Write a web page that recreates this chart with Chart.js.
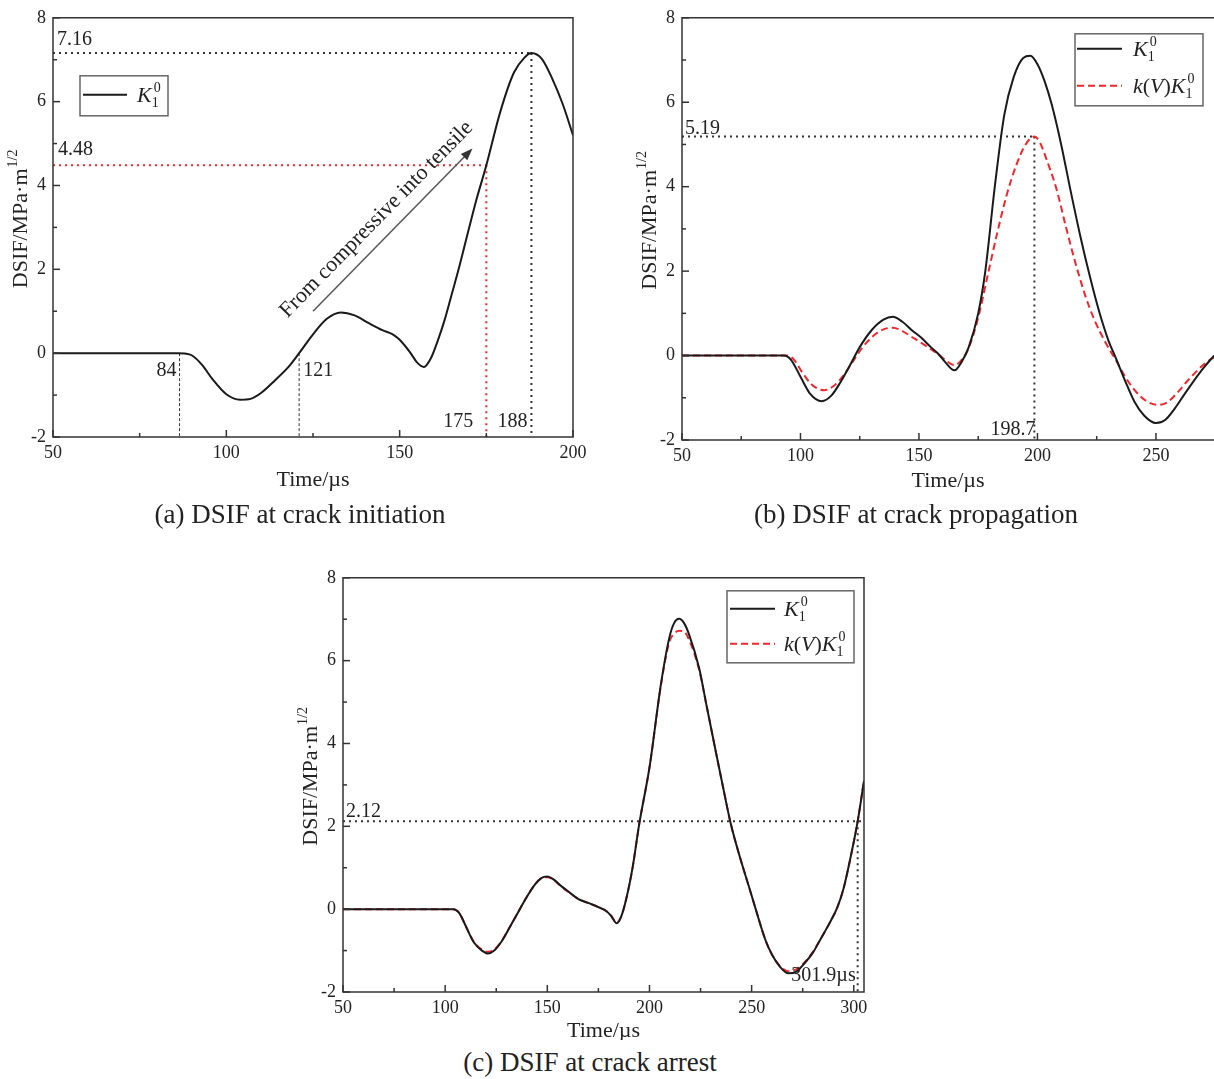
<!DOCTYPE html>
<html>
<head>
<meta charset="utf-8">
<script src="https://cdn.jsdelivr.net/npm/chart.js@4/dist/chart.umd.min.js"></script>
<style>
body{margin:0;background:#fff;width:1214px;height:1079px;position:relative;overflow:hidden;font-family:'Liberation Serif',serif;color:#222;}
.box{position:absolute;}
.cap{position:absolute;font-size:27px;line-height:27px;white-space:nowrap;transform:translateX(-50%);}
</style>
</head>
<body>
<div class="box" style="left:0;top:0;width:610px;height:500px"><canvas id="ca"></canvas></div>
<div class="box" style="left:600px;top:0;width:614px;height:500px"><canvas id="cb"></canvas></div>
<div class="box" style="left:250px;top:560px;width:640px;height:480px"><canvas id="cc"></canvas></div>
<div class="cap" style="left:300px;top:501px">(a) DSIF at crack initiation</div>
<div class="cap" style="left:916px;top:501px">(b) DSIF at crack propagation</div>
<div class="cap" style="left:590px;top:1049px">(c) DSIF at crack arrest</div>
<script>
// common axis ticks
const yMajor = [-2, 0, 2, 4, 6, 8];
const yMinor = [-1, 1, 3, 5, 7];

// (a) crack initiation
const timeA = [50, 86, 88, 90, 93, 96, 100, 104, 107, 110, 114, 118, 121, 125, 129, 133, 137, 141, 145, 148, 150, 153, 155, 157, 159, 161, 163, 165, 167, 170, 172, 175, 179, 183, 186, 188, 191, 194, 197, 200];
const kA = [0, 0, -0.01, -0.05, -0.28, -0.62, -0.98, -1.11, -1.09, -0.95, -0.65, -0.32, 0, 0.45, 0.82, 0.97, 0.9, 0.72, 0.55, 0.45, 0.32, 0.02, -0.22, -0.33, -0.12, 0.3, 0.8, 1.4, 2.0, 2.98, 3.62, 4.48, 5.75, 6.7, 7.05, 7.16, 7.02, 6.55, 5.95, 5.2];
const xMajorA = [50, 100, 150, 200];
const xMinorA = [75, 125, 175];
const peakA = [188, 7.16];
const initA = [175, 4.48];
const markA = [86.5, 121];
const arrowA = [[125, 1.0], [171, 4.88]];

// (b) crack propagation
const timeB = [50, 93, 96, 100, 104, 109, 113, 117, 121, 125, 130, 135, 139, 143, 147, 151, 155, 158, 161, 165, 168, 171, 175, 178, 182, 186, 190, 194, 197, 200, 203, 206, 210, 214, 218, 222, 226, 230, 233, 237, 241, 245, 250, 254, 258, 262, 266, 270, 274.5];
const kB = [0, 0, -0.1, -0.5, -0.9, -1.08, -0.95, -0.62, -0.22, 0.2, 0.6, 0.85, 0.92, 0.8, 0.6, 0.42, 0.2, 0.05, -0.15, -0.35, -0.15, 0.2, 1.0, 2.0, 4.0, 5.7, 6.6, 7.05, 7.1, 6.9, 6.5, 5.95, 5.0, 3.9, 2.85, 1.9, 1.05, 0.35, -0.05, -0.6, -1.1, -1.42, -1.6, -1.52, -1.25, -0.92, -0.6, -0.3, 0];
const timeBv = [50, 94, 97, 101, 105, 110, 114, 118, 122, 126, 131, 135, 139, 143, 147, 151, 155, 158, 161, 165, 168, 171, 175, 179, 183, 187, 191, 195, 198.7, 201, 204, 208, 212, 216, 220, 224, 229, 233, 237, 241, 246, 251, 255, 259, 263, 267, 271, 274.5];
const kvB = [0, 0, -0.08, -0.42, -0.7, -0.82, -0.72, -0.48, -0.15, 0.18, 0.48, 0.62, 0.66, 0.58, 0.44, 0.3, 0.15, 0.04, -0.1, -0.23, -0.1, 0.18, 0.9, 1.9, 2.9, 3.8, 4.5, 5.0, 5.19, 5.05, 4.62, 3.95, 3.05, 2.2, 1.45, 0.85, 0.28, -0.1, -0.5, -0.82, -1.08, -1.17, -1.1, -0.88, -0.62, -0.38, -0.17, -0.04];
const xMajorB = [50, 100, 150, 200, 250];
const xMinorB = [75, 125, 175, 225];
const peakB = [198.7, 5.19];

// (c) crack arrest
const timeC = [50, 104, 107, 110, 114, 118, 121, 124, 128, 132, 136, 140, 144, 147, 150, 153, 157, 161, 165, 170, 175, 179, 181, 184, 186, 188.5, 191.8, 195, 200, 205.6, 209.7, 212, 214.5, 217, 219.4, 224.3, 228, 232.4, 236, 239.8, 244, 248.7, 252, 256.8, 260, 264, 268, 272, 276, 280, 284, 288, 292, 295, 298, 301.9, 305];
const kC = [0, 0, -0.1, -0.4, -0.8, -1.0, -1.07, -1.0, -0.75, -0.4, -0.05, 0.3, 0.6, 0.75, 0.79, 0.72, 0.55, 0.4, 0.25, 0.15, 0.05, -0.05, -0.15, -0.34, -0.2, 0.22, 1.02, 2.06, 3.42, 5.43, 6.55, 6.9, 7.01, 6.9, 6.63, 5.82, 4.9, 3.82, 2.95, 2.06, 1.3, 0.54, 0, -0.75, -1.1, -1.4, -1.55, -1.5, -1.3, -1.05, -0.7, -0.35, 0.05, 0.5, 1.15, 2.12, 3.1];
const kvC = [0, 0, -0.1, -0.4, -0.78, -0.98, -1.03, -0.98, -0.74, -0.4, -0.05, 0.3, 0.6, 0.74, 0.77, 0.71, 0.54, 0.39, 0.25, 0.15, 0.05, -0.05, -0.14, -0.32, -0.2, 0.22, 1.02, 2.06, 3.42, 5.4, 6.45, 6.65, 6.72, 6.7, 6.5, 5.78, 4.9, 3.82, 2.95, 2.06, 1.3, 0.54, 0, -0.75, -1.1, -1.38, -1.5, -1.45, -1.28, -1.03, -0.7, -0.35, 0.05, 0.5, 1.15, 2.12, 3.1];
const xMajorC = [50, 100, 150, 200, 250, 300];
const xMinorC = [75, 125, 175, 225, 275];
const arrestC = [301.9, 2.12];

const FONT = "'Liberation Serif', 'Times New Roman', serif";
const INK = '#222';
const RED = '#f0282d';
Chart.defaults.font.family = FONT;
Chart.defaults.color = INK;

function pts(xs, ys) { return xs.map((x, i) => ({ x: x, y: ys[i] })); }

function seg(ctx, a, b, color, w, dash) {
    ctx.save();
    ctx.beginPath();
    ctx.strokeStyle = color;
    ctx.lineWidth = w;
    ctx.setLineDash(dash || []);
    ctx.moveTo(a[0], a[1]);
    ctx.lineTo(b[0], b[1]);
    ctx.stroke();
    ctx.restore();
}

function txt(ctx, s, x, y, size, align, style) {
    ctx.save();
    ctx.font = (style || '') + ' ' + size + 'px ' + FONT;
    ctx.fillStyle = INK;
    ctx.textAlign = align || 'left';
    ctx.textBaseline = 'alphabetic';
    ctx.fillText(s, x, y);
    ctx.restore();
}

// italic/roman pieces with stacked sub + sup
function drawMath(ctx, x, y, parts) {
    ctx.save();
    ctx.fillStyle = INK;
    ctx.textBaseline = 'alphabetic';
    let cx = x;
    for (let i = 0; i < parts.length; i++) {
        const p = parts[i];
        if (p[1] == 'sub') {
            ctx.font = '14px ' + FONT;
            ctx.fillText(p[0], cx, y + 5);
            const w1 = ctx.measureText(p[0]).width;
            const q = parts[i + 1];
            ctx.fillText(q[0], cx + 2, y - 10);
            cx += Math.max(w1, ctx.measureText(q[0]).width + 2);
            i++;
        } else {
            ctx.font = (p[1] == 'i' ? 'italic ' : '') + '22px ' + FONT;
            ctx.fillText(p[0], cx, y);
            cx += ctx.measureText(p[0]).width;
        }
    }
    ctx.restore();
}

const K10 = [['K', 'i'], ['1', 'sub'], ['0', 'sup']];
const KVK10 = [['k', 'i'], ['(', 'r'], ['V', 'i'], [')', 'r'], ['K', 'i'], ['1', 'sub'], ['0', 'sup']];

function drawLegend(ctx, lg) {
    ctx.save();
    ctx.strokeStyle = '#666';
    ctx.lineWidth = 1.5;
    ctx.strokeRect(lg.x, lg.y, lg.w, lg.h);
    ctx.restore();
    lg.rows.forEach(r => {
        const yy = lg.y + r.dy;
        seg(ctx, [lg.x + r.l0, yy], [lg.x + r.l1, yy], r.color, 2, r.dash);
        drawMath(ctx, lg.x + r.tx, yy + 7, r.parts);
    });
}

function yTitle(ctx, x, cy) {
    ctx.save();
    ctx.translate(x, cy);
    ctx.rotate(-Math.PI / 2);
    ctx.fillStyle = INK;
    ctx.textBaseline = 'alphabetic';
    ctx.font = '22px ' + FONT;
    const main = 'DSIF/MPa\u00b7m';
    const w1 = ctx.measureText(main).width;
    ctx.font = '14px ' + FONT;
    const w2 = ctx.measureText('1/2').width;
    const x0 = -(w1 + w2) / 2;
    ctx.font = '22px ' + FONT;
    ctx.fillText(main, x0, 0);
    ctx.font = '14px ' + FONT;
    ctx.fillText('1/2', x0 + w1 + 1, -10);
    ctx.restore();
}

function makePanel(id, p) {
    const cv = document.getElementById(id);
    const W = cv.parentNode.clientWidth, H = cv.parentNode.clientHeight;
    const decor = {
        id: 'decor' + id,
        beforeDatasetsDraw(chart) {
            if (p.under) p.under(chart);
        },
        afterDatasetsDraw(chart) {
            const ctx = chart.ctx, a = chart.chartArea, x = chart.scales.x, y = chart.scales.y;
            const tc = '#333';
            p.xMajor.forEach(v => { const q = x.getPixelForValue(v); seg(ctx, [q, a.bottom], [q, a.bottom - 7], tc, 1.5); });
            p.xMinor.forEach(v => { const q = x.getPixelForValue(v); seg(ctx, [q, a.bottom], [q, a.bottom - 4], tc, 1.5); });
            yMajor.forEach(v => { const q = y.getPixelForValue(v); seg(ctx, [a.left, q], [a.left + 7, q], tc, 1.5); });
            yMinor.forEach(v => { const q = y.getPixelForValue(v); seg(ctx, [a.left, q], [a.left + 4, q], tc, 1.5); });
            ctx.save();
            ctx.strokeStyle = tc;
            ctx.lineWidth = 1.5;
            ctx.beginPath();
            ctx.moveTo(p.noRight ? a.right + 2 : a.right, a.top);
            ctx.lineTo(a.left, a.top);
            ctx.lineTo(a.left, a.bottom);
            ctx.lineTo(p.noRight ? a.right + 2 : a.right, a.bottom);
            if (!p.noRight) ctx.closePath();
            ctx.stroke();
            ctx.restore();
            if (p.over) p.over(chart);
            drawLegend(ctx, p.legend(a));
            txt(ctx, 'Time/\u00b5s', (a.left + a.right) / 2, a.bottom + p.xtDy, 22, 'center');
            yTitle(ctx, a.left - 26, (a.top + a.bottom) / 2 - 8);
        }
    };
    return new Chart(cv, {
        type: 'line',
        data: { datasets: p.datasets },
        options: {
            animation: false,
            responsive: true,
            maintainAspectRatio: false,
            layout: { padding: { left: 0, top: p.area.t, right: W - p.area.r, bottom: 0 } },
            plugins: { legend: { display: false }, tooltip: { enabled: false } },
            elements: { point: { radius: 0 }, line: { borderWidth: 2, cubicInterpolationMode: 'monotone' } },
            scales: {
                x: {
                    type: 'linear', min: p.xMin, max: p.xMax,
                    grid: { display: false, drawTicks: false },
                    border: { display: false },
                    ticks: { font: { size: 18 }, color: INK, padding: 5, includeBounds: false, maxRotation: 0, autoSkip: false },
                    afterBuildTicks: s => { s.ticks = p.xMajor.map(v => ({ value: v })); },
                    afterFit: s => { s.height = H - p.area.b; }
                },
                y: {
                    type: 'linear', min: -2, max: 8,
                    grid: { display: false, drawTicks: false },
                    border: { display: false },
                    ticks: { font: { size: 18 }, color: INK, padding: 7, callback: v => String(v) },
                    afterBuildTicks: s => { s.ticks = yMajor.map(v => ({ value: v })); },
                    afterFit: s => { s.width = p.area.l; }
                }
            }
        },
        plugins: [decor]
    });
}

function px(chart, vx, vy) { return [chart.scales.x.getPixelForValue(vx), chart.scales.y.getPixelForValue(vy)]; }
const DOT = [2, 4];

makePanel('ca', {
    area: { l: 53, t: 15, r: 573, b: 437 }, xMin: 50, xMax: 200, xMajor: xMajorA, xMinor: xMinorA, xtDy: 49,
    datasets: [{ data: pts(timeA, kA), borderColor: '#1a1a1a' }],
    under(c) {
        const ctx = c.ctx;
        seg(ctx, px(c, 50, peakA[1]), px(c, peakA[0], peakA[1]), '#333', 2, DOT);
        seg(ctx, px(c, peakA[0], peakA[1]), px(c, peakA[0], -2), '#333', 2, DOT);
        seg(ctx, px(c, 50, initA[1]), px(c, initA[0], initA[1]), RED, 2, DOT);
        seg(ctx, px(c, initA[0], initA[1]), px(c, initA[0], -2), RED, 2, DOT);
        markA.forEach(m => seg(ctx, px(c, m, 0), px(c, m, -2), '#333', 1, [3, 2]));
    },
    over(c) {
        const ctx = c.ctx, a = c.chartArea;
        txt(ctx, '7.16', a.left + 4, px(c, 50, peakA[1])[1] - 8, 20);
        txt(ctx, '4.48', a.left + 5, px(c, 50, initA[1])[1] - 10, 20);
        const y0 = px(c, 50, 0)[1];
        txt(ctx, '84', px(c, markA[0], 0)[0] - 3, y0 + 23, 20, 'right');
        txt(ctx, '121', px(c, markA[1], 0)[0] + 4, y0 + 23, 20, 'left');
        txt(ctx, '175', px(c, initA[0], 0)[0] - 13, a.bottom - 10, 20, 'right');
        txt(ctx, '188', px(c, peakA[0], 0)[0] - 4, a.bottom - 10, 20, 'right');
        // arrow
        const p1 = px(c, arrowA[0][0], arrowA[0][1]), p2 = px(c, arrowA[1][0], arrowA[1][1]);
        const dx = p2[0] - p1[0], dy = p2[1] - p1[1], len = Math.hypot(dx, dy);
        const ux = dx / len, uy = dy / len;
        seg(ctx, p1, [p2[0] - ux * 8, p2[1] - uy * 8], '#555', 1.5);
        ctx.save();
        ctx.fillStyle = '#333';
        ctx.beginPath();
        ctx.moveTo(p2[0], p2[1]);
        ctx.lineTo(p2[0] - ux * 12 - uy * 4.5, p2[1] - uy * 12 + ux * 4.5);
        ctx.lineTo(p2[0] - ux * 12 + uy * 4.5, p2[1] - uy * 12 - ux * 4.5);
        ctx.closePath();
        ctx.fill();
        const mx = (p1[0] + p2[0]) / 2 + uy * 19 - ux * 4, my = (p1[1] + p2[1]) / 2 - ux * 19 - uy * 4;
        ctx.translate(mx, my);
        ctx.rotate(Math.atan2(dy, dx));
        ctx.font = '22px ' + FONT;
        ctx.fillStyle = INK;
        ctx.textAlign = 'center';
        ctx.textBaseline = 'middle';
        ctx.fillText('From compressive into tensile', 0, 0);
        ctx.restore();
    },
    legend: a => ({ x: a.left + 27, y: a.top + 58, w: 88, h: 40,
        rows: [{ dy: 19, l0: 3, l1: 47, tx: 57, color: '#1a1a1a', parts: K10 }] })
});

makePanel('cb', {
    area: { l: 82, t: 14, r: 614, b: 440 }, xMin: 50, xMax: 274.5, xMajor: xMajorB, xMinor: xMinorB, xtDy: 47, noRight: true,
    datasets: [
        { data: pts(timeB, kB), borderColor: '#1a1a1a' },
        { data: pts(timeBv, kvB), borderColor: RED, borderDash: [7, 4] }
    ],
    under(c) {
        seg(c.ctx, px(c, 50, peakB[1]), px(c, peakB[0], peakB[1]), '#333', 2, DOT);
        seg(c.ctx, px(c, peakB[0], peakB[1]), px(c, peakB[0], -2), '#333', 2, DOT);
    },
    over(c) {
        const a = c.chartArea;
        txt(c.ctx, '5.19', a.left + 3, px(c, 50, peakB[1])[1] - 2, 20);
        txt(c.ctx, '198.7', px(c, peakB[0], 0)[0] + 1, a.bottom - 5, 20, 'right');
    },
    legend: a => ({ x: a.right - 139, y: a.top + 16, w: 128, h: 72,
        rows: [{ dy: 15, l0: 2, l1: 47, tx: 58, color: '#1a1a1a', parts: K10 },
               { dy: 52, l0: 2, l1: 47, tx: 58, color: RED, dash: [7, 4], parts: KVK10 }] })
});

makePanel('cc', {
    area: { l: 93, t: 16, r: 614, b: 432 }, xMin: 50, xMax: 305, xMajor: xMajorC, xMinor: xMinorC, xtDy: 45,
    datasets: [
        { data: pts(timeC, kC), borderColor: '#1a1a1a' },
        { data: pts(timeC, kvC), borderColor: RED, borderDash: [7, 4] }
    ],
    under(c) {
        seg(c.ctx, px(c, 50, arrestC[1]), px(c, 305, arrestC[1]), '#333', 2, DOT);
        seg(c.ctx, px(c, arrestC[0], arrestC[1]), px(c, arrestC[0], -2), '#333', 2, DOT);
    },
    over(c) {
        const a = c.chartArea;
        txt(c.ctx, '2.12', a.left + 3, px(c, 50, arrestC[1])[1] - 4, 20);
        txt(c.ctx, '301.9\u00b5s', px(c, arrestC[0], 0)[0] - 2, a.bottom - 11, 20, 'right');
    },
    legend: a => ({ x: a.right - 137, y: a.top + 13, w: 127, h: 72,
        rows: [{ dy: 18, l0: 3, l1: 48, tx: 57, color: '#1a1a1a', parts: K10 },
               { dy: 53, l0: 3, l1: 48, tx: 57, color: RED, dash: [7, 4], parts: KVK10 }] })
});
</script>
</body>
</html>
